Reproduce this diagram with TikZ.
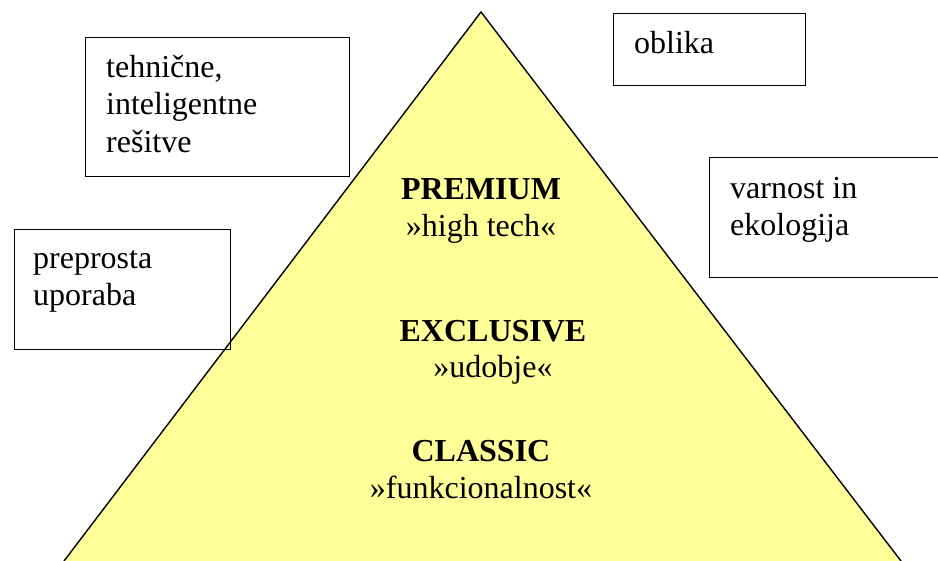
\documentclass[tikz,border=0pt]{standalone}
\usepackage{fontspec}
\setmainfont{Liberation Serif}
\usepackage{xcolor}
\usetikzlibrary{calc}
\definecolor{pyramidyellow}{HTML}{FFFF99}
\tikzset{every node/.style={font=\fontsize{32}{37.5}\selectfont}}
\tikzset{
  framebox/.style={draw, line width=1.4pt, rectangle, inner sep=0pt, anchor=north west},
  boxtext/.style={align=left, inner sep=0pt, anchor=north west},
  tiername/.style={inner sep=0pt, anchor=base, font=\fontsize{32}{37.5}\selectfont\bfseries},
  tiersub/.style={inner sep=0pt, anchor=base}
}

\begin{document}
\begin{tikzpicture}[x=1pt, y=-1pt]
                \useasboundingbox (0,0) rectangle (938,561);

                % pyramid
                \coordinate (apex) at (481,12);
                \coordinate (baseL) at (64,561);
                \coordinate (baseR) at (901,561);
                \fill[pyramidyellow] (baseL) -- (apex) -- (baseR) -- cycle;
                \draw[line width=1.4pt, line join=miter] (baseL) -- (apex) -- (baseR);

                \node[tiername] (premium) at (481,200) {PREMIUM};
                \node[tiersub] (premiumsub) at (481,237) {»high tech«};
                \node[tiername] (exclusive) at (493,342) {EXCLUSIVE};
                \node[tiersub] (exclusivesub) at (493,378) {»udobje«};
                \node[tiername] (classic) at (481,462) {CLASSIC};
                \node[tiersub] (classicsub) at (481,498) {»funkcionalnost«};

                % boxes round the pyramid
                \node[framebox, minimum width=264pt, minimum height=139pt] (tech) at (85,37) {};
                \node[boxtext] (techtext) at (106,50.75) {\strut tehnične,\\inteligentne\\rešitve};

                \node[framebox, minimum width=216pt, minimum height=120pt] (use) at (14,229) {};
                \node[boxtext] (usetext) at (33,241.75) {\strut preprosta\\uporaba};

                \node[framebox, minimum width=192pt, minimum height=72pt] (shape) at (613,13) {};
                \node[boxtext] (shapetext) at (634,26.75) {\strut oblika};

                \node[framebox, minimum width=240pt, minimum height=120pt] (safety) at (709,157) {};
                \node[boxtext] (safetytext) at (730,171.75) {\strut varnost in\\ekologija};
            \end{tikzpicture}
\end{document}
